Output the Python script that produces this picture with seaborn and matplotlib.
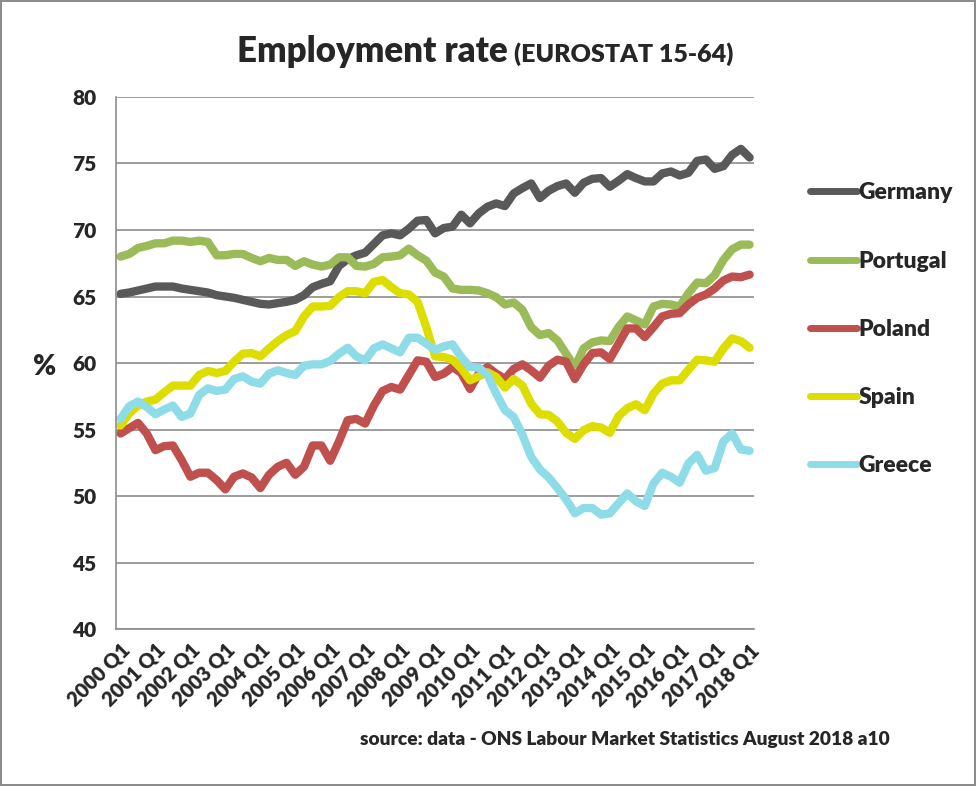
import seaborn as sns
import matplotlib.pyplot as plt
import pandas as pd

# quarterly employment rate, 2000 Q1 .. 2018 Q1 (73 quarters)
germany = [65.2, 65.3, 65.45, 65.6, 65.75, 65.75, 65.75, 65.6, 65.5, 65.4,
           65.3, 65.1, 65.0, 64.9, 64.75, 64.6, 64.45, 64.4, 64.5, 64.6,
           64.75, 65.1, 65.7, 65.95, 66.15, 67.3, 67.8, 68.1, 68.3, 68.95,
           69.6, 69.75, 69.6, 70.1, 70.7, 70.75, 69.75, 70.15, 70.25, 71.15,
           70.5, 71.25, 71.75, 72.0, 71.8, 72.75, 73.15, 73.5, 72.4, 72.95,
           73.3, 73.5, 72.8, 73.55, 73.85, 73.9, 73.25, 73.7, 74.2, 73.9,
           73.65, 73.65, 74.25, 74.4, 74.1, 74.3, 75.2, 75.3, 74.6, 74.8,
           75.65, 76.1, 75.45]
portugal = [68.0, 68.2, 68.65, 68.8, 69.0, 69.0, 69.2, 69.2, 69.1, 69.2,
            69.1, 68.1, 68.1, 68.2, 68.2, 67.9, 67.65, 67.9, 67.75, 67.75,
            67.3, 67.65, 67.4, 67.25, 67.4, 67.95, 67.95, 67.3, 67.25, 67.45,
            67.95, 68.0, 68.1, 68.6, 68.1, 67.7, 66.8, 66.5, 65.6, 65.5,
            65.5, 65.45, 65.25, 64.95, 64.4, 64.55, 64.0, 62.7, 62.1, 62.25,
            61.7, 60.7, 59.7, 61.1, 61.55, 61.7, 61.65, 62.7, 63.5, 63.2,
            62.9, 64.25, 64.45, 64.4, 64.25, 65.25, 66.05, 66.0, 66.6, 67.75,
            68.55, 68.9, 68.9]
poland = [54.7, 55.1, 55.5, 54.7, 53.45, 53.75, 53.8, 52.7, 51.45, 51.75,
          51.75, 51.2, 50.5, 51.45, 51.7, 51.4, 50.6, 51.6, 52.2, 52.5,
          51.6, 52.2, 53.8, 53.8, 52.65, 54.1, 55.7, 55.8, 55.45, 56.8,
          57.9, 58.2, 58.0, 59.1, 60.2, 60.1, 58.95, 59.2, 59.7, 59.25,
          58.05, 59.2, 59.7, 59.2, 58.8, 59.55, 59.9, 59.45, 58.9, 59.8,
          60.25, 60.1, 58.8, 59.9, 60.75, 60.8, 60.3, 61.45, 62.6, 62.6,
          61.95, 62.7, 63.5, 63.7, 63.75, 64.4, 64.9, 65.15, 65.6, 66.2,
          66.5, 66.45, 66.65]
spain = [55.3, 56.2, 56.8, 57.1, 57.25, 57.8, 58.3, 58.3, 58.3, 59.1,
         59.4, 59.25, 59.4, 60.1, 60.7, 60.75, 60.5, 61.1, 61.65, 62.1,
         62.4, 63.5, 64.25, 64.25, 64.3, 64.95, 65.4, 65.4, 65.25, 66.1,
         66.25, 65.7, 65.25, 65.15, 64.6, 62.7, 60.5, 60.45, 60.25, 59.6,
         58.7, 59.0, 59.3, 58.95, 58.15, 58.8, 58.3, 56.95, 56.15, 56.1,
         55.6, 54.75, 54.3, 54.95, 55.25, 55.15, 54.75, 56.0, 56.6, 56.9,
         56.45, 57.7, 58.45, 58.7, 58.7, 59.5, 60.25, 60.2, 60.1, 61.1,
         61.85, 61.65, 61.15]
greece = [55.8, 56.75, 57.1, 56.7, 56.15, 56.5, 56.8, 55.95, 56.2, 57.6,
          58.1, 57.9, 58.0, 58.8, 59.0, 58.6, 58.45, 59.2, 59.45, 59.25,
          59.1, 59.8, 59.9, 59.9, 60.15, 60.7, 61.15, 60.5, 60.2, 61.1,
          61.4, 61.1, 60.8, 61.9, 61.9, 61.45, 61.0, 61.25, 61.4, 60.45,
          59.7, 59.65, 59.1, 57.7, 56.45, 55.95, 54.6, 52.95, 52.0, 51.4,
          50.6, 49.75, 48.7, 49.1, 49.1, 48.6, 48.7, 49.45, 50.2, 49.6,
          49.25, 50.95, 51.75, 51.45, 51.0, 52.45, 53.1, 51.9, 52.1, 54.1,
          54.7, 53.5, 53.4]

countries = ['Germany', 'Portugal', 'Poland', 'Spain', 'Greece']
colors = ['#595959', '#9BBB59', '#C0504D', '#DDDD00', '#8FDCE9']
years = list(range(2000, 2019))
tick_labels = [f'{y} Q1' for y in years]

series = [germany, portugal, poland, spain, greece]
df = pd.concat([pd.DataFrame({'q': range(len(v)), 'rate': v, 'country': c})
                for c, v in zip(countries, series)], ignore_index=True)

sns.set_style('white')
plt.rcParams['font.family'] = ['Lato', 'DejaVu Sans']
W = 'heavy'
plt.rcParams['font.weight'] = W

fig = plt.figure(figsize=(9.76, 7.86), dpi=100, edgecolor='#8c8c8c', linewidth=1.5)
ax = fig.add_axes([0.119, 0.1997, 0.6535, 0.6769])

sns.lineplot(data=df, x='q', y='rate', hue='country', hue_order=countries,
             palette=colors, linewidth=6, ax=ax, legend=False)

ax.set_xlim(-0.5, 72.5)
ax.set_ylim(40, 80)
ax.set_yticks(range(40, 81, 5))
ax.set_xticks(range(0, 73, 4))
ax.set_xticks([i - 0.5 for i in range(74)], minor=True)
ax.set_xticklabels(tick_labels, rotation=45, ha='right', rotation_mode='anchor',
                   fontsize=14.5, fontweight=W)
ax.tick_params(axis='x', which='major', length=0, pad=8)
ax.tick_params(axis='x', which='minor', length=5, color='#8c8c8c', width=1)
ax.tick_params(axis='y', length=6, color='#8c8c8c', labelsize=15, pad=8)
for lbl in ax.get_yticklabels():
    lbl.set_fontweight(W)
ax.yaxis.grid(True, color='#8c8c8c', linewidth=1.2)
ax.set_axisbelow(True)
for s in ['top', 'right']:
    ax.spines[s].set_visible(False)
for s in ['left', 'bottom']:
    ax.spines[s].set_color('#8c8c8c')
    ax.spines[s].set_linewidth(1.2)
ax.set_xlabel('')
ax.set_ylabel('')

handles = [plt.Line2D([], [], color=c, linewidth=5, solid_capstyle='round') for c in colors]
fig.legend(handles, countries, loc='upper left', bbox_to_anchor=(0.830, 0.768),
           frameon=False, prop={'size': 16.5, 'weight': W},
           handlelength=2.05, handletextpad=0.05, labelspacing=2.06,
           borderaxespad=0, borderpad=0)

fig.text(0.52, 1 - 62 / 786, 'Employment rate', ha='right', va='baseline',
         fontsize=25, fontweight=W)
fig.text(0.527, 1 - 62 / 786, '(EUROSTAT 15-64)', ha='left', va='baseline',
         fontsize=18, fontweight=W)
fig.text(45 / 976, 1 - 367 / 786, '%', ha='center', va='center', fontsize=20, fontweight=W)
fig.text(890 / 976, 1 - 740 / 786, 'source: data - ONS Labour Market Statistics August 2018 a10',
         ha='right', va='center', fontsize=13.8, fontweight=W)

fig.savefig('out.png', dpi=100, edgecolor=fig.get_edgecolor())
